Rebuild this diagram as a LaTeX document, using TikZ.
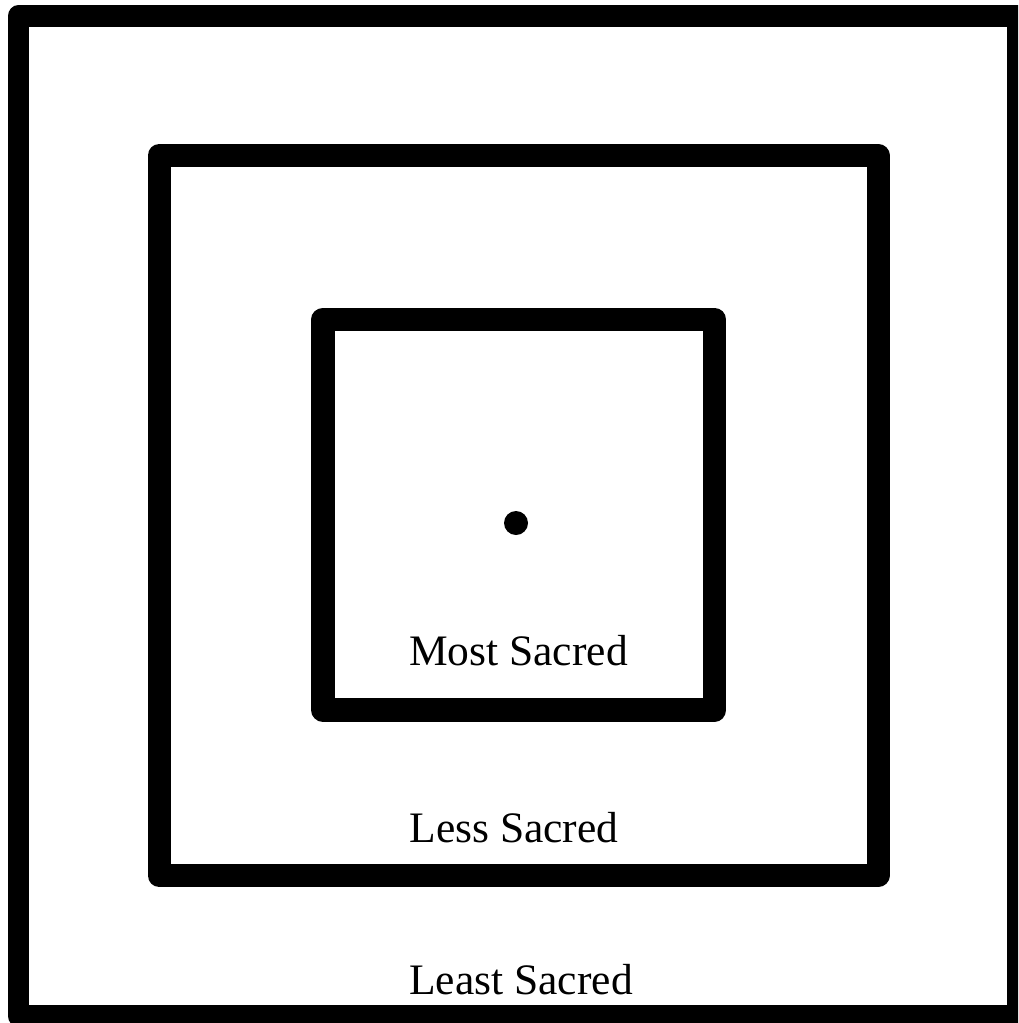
\documentclass[tikz,border=0pt]{standalone}
\usepackage{fontspec}
\setmainfont{Liberation Serif}
\begin{document}
\begin{tikzpicture}[x=1pt,y=-1pt,
  wall/.style={draw=black,line width=22pt,line join=round},
  lbl/.style={anchor=base,inner sep=0pt,font=\fontsize{43.5}{50}\selectfont}]
\useasboundingbox (0,0) rectangle (1018,1023);
\clip (0,0) rectangle (1018,1023);
\draw[wall,line width=21.5pt] (18.5,16) rectangle (1017.5,1016);
\draw[wall,line width=23pt] (159,155.5) rectangle (878,875.5);
\draw[wall,line width=23.5pt] (323,319.5) rectangle (714.5,710);
\fill (516,523) circle (12);
\node[lbl] (most) at (518.5,665) {Most Sacred};
\node[lbl] (less) at (514,842) {Less Sacred};
\node[lbl] (least) at (521,994) {Least Sacred};
\end{tikzpicture}
\end{document}
